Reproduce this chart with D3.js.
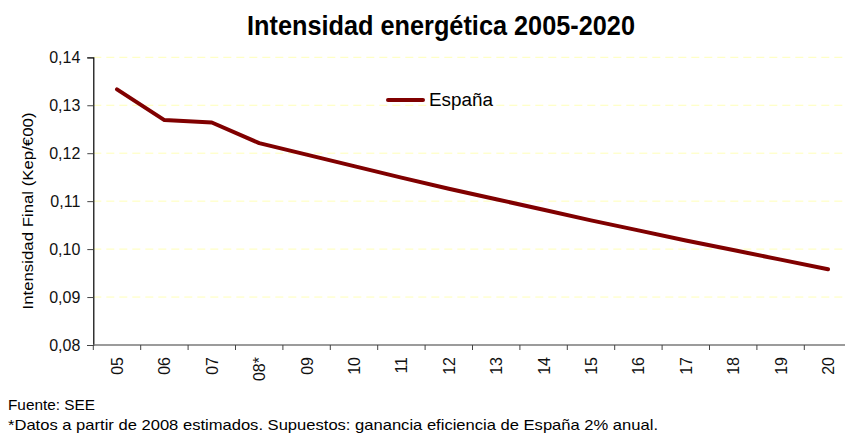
<!DOCTYPE html>
<html><head><meta charset="utf-8">
<script src="https://cdn.jsdelivr.net/npm/d3@7"></script>
<style>body{margin:0;background:#fff}svg{display:block;font-family:"Liberation Sans",Arial,sans-serif}</style>
</head><body><svg id="c" width="845" height="434"></svg>
<script>
const categories = ["05","06","07","08*","09","10","11","12","13","14","15","16","17","18","19","20"];
const espana = [0.1333,0.1269,0.1264,0.1221,0.1197,0.1173,0.1149,0.1126,0.1104,0.1082,0.1060,0.1039,0.1018,0.0998,0.0978,0.0958];
const yTicks = [0.08,0.09,0.10,0.11,0.12,0.13,0.14];
const seriesName = "España";

const svg = d3.select("#c");
const x0 = 93.3, step = 47.4, yTop = 57.3, yBot = 345;
const x = d3.scaleBand().domain(categories).range([x0, x0 + step*categories.length]).padding(0);
const y = d3.scaleLinear().domain([0.08,0.14]).range([yBot, yTop]);
const fmt = d => d3.format(".2f")(d).replace(".", ",");

// grid
svg.append("g").selectAll("line").data(yTicks.filter(d=>d>0.08)).join("line")
  .attr("x1", x0).attr("x2", 845).attr("y1", d=>y(d)).attr("y2", d=>y(d))
  .attr("stroke", "#ffffb8").attr("stroke-width", 1).attr("stroke-dasharray", "8,5");

// y axis
const ya = svg.append("g").attr("transform", `translate(${x0},0)`)
  .call(d3.axisLeft(y).tickValues(yTicks).tickFormat(fmt).tickSize(6).tickPadding(7));
ya.select(".domain").attr("stroke", "#000").attr("stroke-width", 1.2);
ya.selectAll(".tick line").attr("stroke", "#444");
ya.selectAll("text").attr("font-size", 16).attr("fill", "#111").attr("font-family", "Liberation Sans, Arial, sans-serif");

// x axis
const xa = svg.append("g").attr("transform", `translate(0,${yBot})`)
  .call(d3.axisBottom(x).tickSize(0).tickPadding(0));
xa.select(".domain").remove();
xa.selectAll("text").attr("font-size", 16).attr("fill", "#111").attr("font-family", "Liberation Sans, Arial, sans-serif")
  .attr("text-anchor", "end").attr("dy", null)
  .attr("transform", "translate(6,12) rotate(-90)");
svg.append("line").attr("x1", x0).attr("x2", 845).attr("y1", yBot).attr("y2", yBot)
  .attr("stroke", "#7a7a7a").attr("stroke-width", 1.5);
svg.append("g").selectAll("line").data(categories).join("line")
  .attr("x1", d=>x(d)).attr("x2", d=>x(d)).attr("y1", yBot).attr("y2", yBot+5)
  .attr("stroke", "#444").attr("stroke-width", 1);

// line
const line = d3.line().x((d,i)=>x(categories[i]) + x.bandwidth()/2).y(d=>y(d));
svg.append("path").datum(espana).attr("d", line)
  .attr("fill", "none").attr("stroke", "#800000").attr("stroke-width", 4)
  .attr("stroke-linejoin", "round").attr("stroke-linecap", "round");

// legend
svg.append("line").attr("x1", 388).attr("x2", 423).attr("y1", 100).attr("y2", 100)
  .attr("stroke", "#800000").attr("stroke-width", 4).attr("stroke-linecap", "round");
svg.append("text").attr("x", 429).attr("y", 106).attr("font-size", 18).attr("fill", "#000")
  .attr("textLength", 64).attr("lengthAdjust", "spacingAndGlyphs").text(seriesName);

// title
svg.append("text").attr("x", 247).attr("y", 35).attr("font-size", 27).attr("font-weight", "bold")
  .attr("fill", "#000").attr("textLength", 388).attr("lengthAdjust", "spacingAndGlyphs")
  .text("Intensidad energética 2005-2020");

// y title
svg.append("text").attr("transform", "translate(33,211) rotate(-90)").attr("text-anchor", "middle")
  .attr("font-size", 15).attr("fill", "#000").attr("textLength", 197).attr("lengthAdjust", "spacingAndGlyphs")
  .text("Intensidad Final (Kep/€00)");

// footnotes
svg.append("text").attr("x", 8).attr("y", 410).attr("font-size", 15).attr("fill", "#000")
  .attr("textLength", 87).attr("lengthAdjust", "spacingAndGlyphs").text("Fuente: SEE");
svg.append("text").attr("x", 8).attr("y", 430).attr("font-size", 15).attr("fill", "#000")
  .attr("textLength", 650).attr("lengthAdjust", "spacingAndGlyphs")
  .text("*Datos a partir de 2008 estimados. Supuestos: ganancia eficiencia de España 2% anual.");
</script></body></html>
